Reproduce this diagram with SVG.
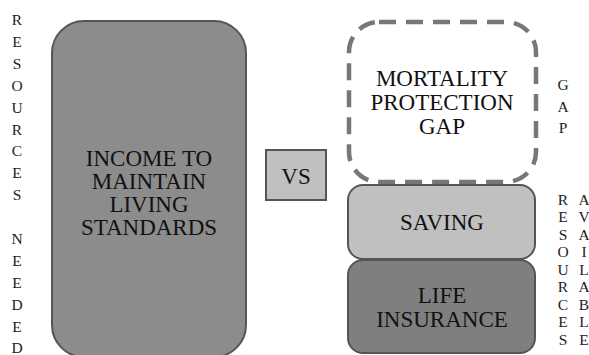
<svg xmlns="http://www.w3.org/2000/svg" width="589" height="355" viewBox="0 0 589 355">
<style>
.t{font-family:"Liberation Serif","Times New Roman",serif;font-size:23px;fill:#111;text-anchor:middle}
.s{font-family:"Liberation Serif","Times New Roman",serif;font-size:15.5px;fill:#222;text-anchor:middle}
.box{stroke:#555;stroke-width:2}
</style>
<rect width="589" height="355" fill="#fff"/>
<g id="label-resources-needed">
<text class="s" x="17" y="25">R</text>
<text class="s" x="17" y="47">E</text>
<text class="s" x="17" y="69">S</text>
<text class="s" x="17" y="91">O</text>
<text class="s" x="17" y="113">U</text>
<text class="s" x="17" y="135">R</text>
<text class="s" x="17" y="156">C</text>
<text class="s" x="17" y="178">E</text>
<text class="s" x="17" y="200">S</text>
<text class="s" x="17" y="244">N</text>
<text class="s" x="17" y="266">E</text>
<text class="s" x="17" y="288">E</text>
<text class="s" x="17" y="310">D</text>
<text class="s" x="17" y="332">E</text>
<text class="s" x="17" y="353">D</text>
</g>
<g id="node-income">
<rect class="box" x="52" y="21" width="194" height="336" rx="32" fill="#8c8c8c"/>
<text class="t" x="149" y="166">INCOME TO</text>
<text class="t" x="149" y="189">MAINTAIN</text>
<text class="t" x="149" y="212">LIVING</text>
<text class="t" x="149" y="235">STANDARDS</text>
</g>
<g id="node-vs">
<rect class="box" x="266" y="150" width="60" height="50" fill="#c0c0c0"/>
<text class="t" x="296" y="184">VS</text>
</g>
<g id="node-gap">
<rect x="349" y="22" width="187" height="160" rx="30" fill="#fff" stroke="#777" stroke-width="4.5" stroke-dasharray="17 10"/>
<text class="t" x="442" y="86">MORTALITY</text>
<text class="t" x="442" y="110">PROTECTION</text>
<text class="t" x="442" y="134">GAP</text>
</g>
<g id="node-saving">
<rect class="box" x="348" y="185" width="187" height="74" rx="15" fill="#c0c0c0"/>
<text class="t" x="442" y="230">SAVING</text>
</g>
<g id="node-life">
<rect class="box" x="348" y="260" width="187" height="93" rx="15" fill="#7f7f7f"/>
<text class="t" x="442" y="303">LIFE</text>
<text class="t" x="442" y="327">INSURANCE</text>
</g>
<g id="label-gap">
<text class="s" x="563" y="90">G</text>
<text class="s" x="563" y="112">A</text>
<text class="s" x="563" y="133">P</text>
</g>
<g id="label-resources-available">
<text class="s" x="563" y="205">R</text>
<text class="s" x="563" y="222">E</text>
<text class="s" x="563" y="240">S</text>
<text class="s" x="563" y="257">O</text>
<text class="s" x="563" y="275">U</text>
<text class="s" x="563" y="292">R</text>
<text class="s" x="563" y="310">C</text>
<text class="s" x="563" y="327">E</text>
<text class="s" x="563" y="345">S</text>
<text class="s" x="584" y="205">A</text>
<text class="s" x="584" y="222">V</text>
<text class="s" x="584" y="240">A</text>
<text class="s" x="584" y="257">I</text>
<text class="s" x="584" y="275">L</text>
<text class="s" x="584" y="292">A</text>
<text class="s" x="584" y="310">B</text>
<text class="s" x="584" y="327">L</text>
<text class="s" x="584" y="345">E</text>
</g>
<g id="connectors"></g>
</svg>
